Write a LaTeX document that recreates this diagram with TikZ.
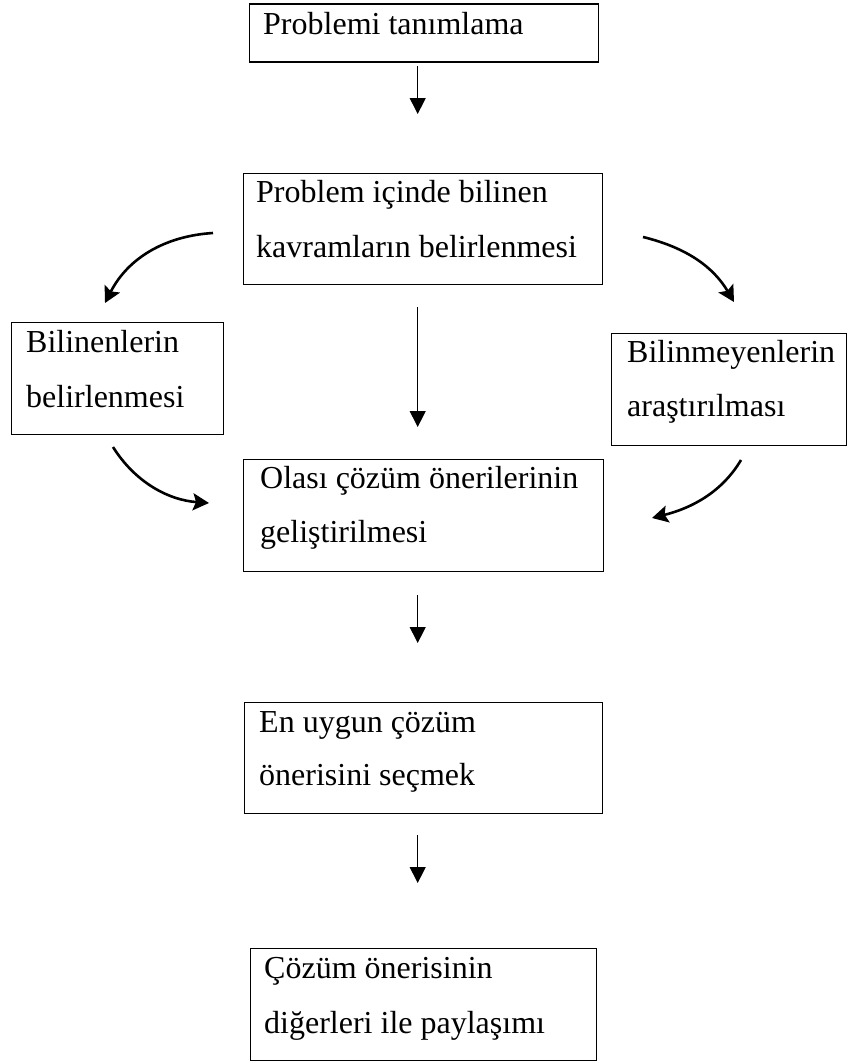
\documentclass[tikz,border=0pt]{standalone}
\usepackage{fontspec}
\setmainfont{Liberation Serif}
\usetikzlibrary{arrows.meta}
\begin{document}
\begin{tikzpicture}[x=1pt,y=-1pt,
  box/.style={draw=black, line width=1.4pt, inner sep=0pt, anchor=north west},
  txt/.style={anchor=base west, inner sep=0pt, font=\fontsize{32}{38}\selectfont},
  thinarrow/.style={line width=1pt, -{Triangle[length=16pt,width=16pt]}},
  curvearrow/.style={line width=2.6pt, -{Stealth[length=16pt,width=17pt,inset=3pt]}}
]
\useasboundingbox (0,0) rectangle (847,1063);

% boxes
\node[box, minimum width=349pt, minimum height=58pt]  (b1) at (249,3.3) {};
\node[box, minimum width=359pt, minimum height=111pt] (b2) at (243,173) {};
\node[box, minimum width=212pt, minimum height=112pt] (b3) at (10.7,322) {};
\node[box, minimum width=235pt, minimum height=112pt] (b4) at (611,333) {};
\node[box, minimum width=360pt, minimum height=112pt] (b5) at (243,459) {};
\node[box, minimum width=358pt, minimum height=111pt] (b6) at (243.7,702) {};
\node[box, minimum width=346pt, minimum height=112pt] (b7) at (249.7,948) {};

% texts
\node[txt] (t1)  at (263,34)  {Problemi tanımlama};
\node[txt] (t2a) at (256,202) {Problem içinde bilinen};
\node[txt] (t2b) at (256,257) {kavramların belirlenmesi};
\node[txt] (t3a) at (26,352)  {Bilinenlerin};
\node[txt] (t3b) at (26,407)  {belirlenmesi};
\node[txt] (t4a) at (627,362) {Bilinmeyenlerin};
\node[txt] (t4b) at (627,416) {araştırılması};
\node[txt] (t5a) at (260,488) {Olası çözüm önerilerinin};
\node[txt] (t5b) at (260,542) {geliştirilmesi};
\node[txt] (t6a) at (259,732) {En uygun çözüm};
\node[txt] (t6b) at (259,785) {önerisini seçmek};
\node[txt] (t7a) at (264,978) {Çözüm önerisinin};
\node[txt] (t7b) at (264,1033) {diğerleri ile paylaşımı};

% arrow end points
\coordinate (a1s) at (417.7,66);
\coordinate (a1e) at (417.7,114);
\coordinate (a2s) at (417.7,307);
\coordinate (a2e) at (417.7,427);
\coordinate (a3s) at (417.7,595);
\coordinate (a3e) at (417.7,643);
\coordinate (a4s) at (417.7,835);
\coordinate (a4e) at (417.7,883);

\coordinate (c1s) at (213,233);
\coordinate (c1e) at (105,303);
\coordinate (c2s) at (643,237);
\coordinate (c2e) at (734,302);
\coordinate (c3s) at (113,447);
\coordinate (c3e) at (209,503);
\coordinate (c4s) at (741,460);
\coordinate (c4e) at (652,518);

% straight arrows
\draw[thinarrow] (a1s) -- (a1e);
\draw[thinarrow] (a2s) -- (a2e);
\draw[thinarrow] (a3s) -- (a3e);
\draw[thinarrow] (a4s) -- (a4e);

% curved arrows
\draw[curvearrow] (c1s) .. controls (165,236) and (128,258) .. (c1e);
\draw[curvearrow] (c2s) .. controls (688,248) and (714,268) .. (c2e);
\draw[curvearrow] (c3s) .. controls (135,482) and (168,500) .. (c3e);
\draw[curvearrow] (c4s) .. controls (722,492) and (692,508) .. (c4e);
\end{tikzpicture}
\end{document}
